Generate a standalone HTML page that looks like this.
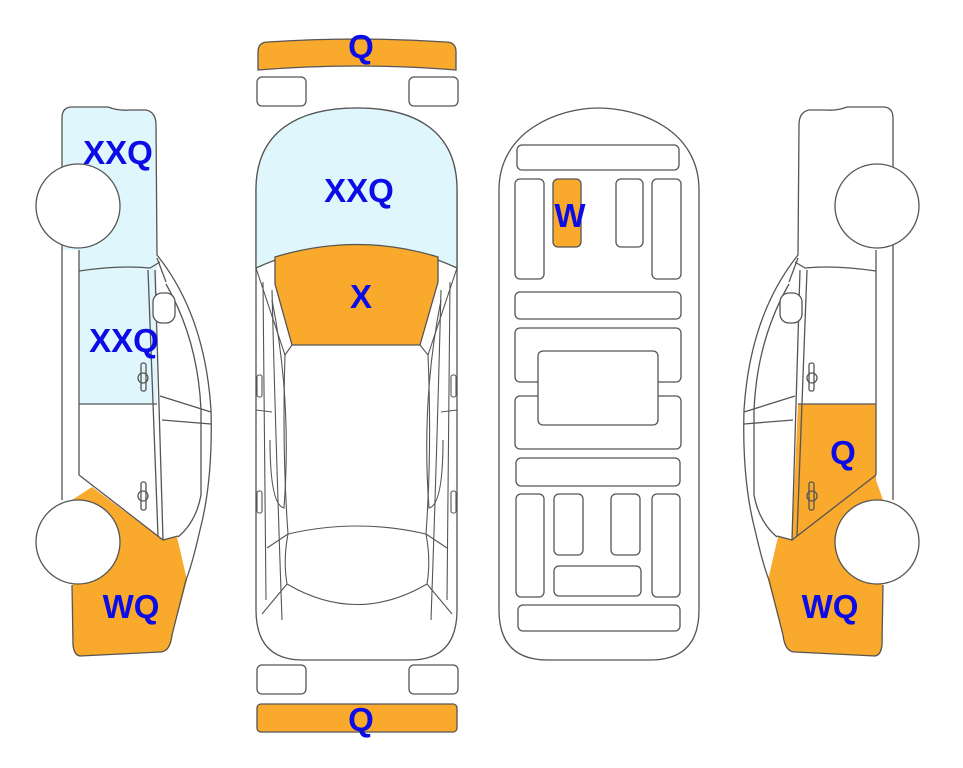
<!DOCTYPE html>
<html><head><meta charset="utf-8"><style>
html,body{margin:0;padding:0;background:#fff;width:963px;height:768px;overflow:hidden}
svg{display:block}
text{font-family:"Liberation Sans",Arial,sans-serif;font-weight:bold;font-size:33px;fill:#0c0ce6;text-anchor:middle}
</style></head><body>
<svg width="963" height="768" viewBox="0 0 963 768" xmlns="http://www.w3.org/2000/svg">

<!-- LEFT CAR -->
<path d="M62,245 L62,118 Q62,107 72,107 L108,107 Q118,111 130,110 L146,110 Q156,112 156,125 L157,255 Q205,315 211,410 Q213,480 200,530 Q192,565 186,580 L172,635 Q170,652 160,652 L80,656 Q74,655 73,645 L72,585 L62,500 Z" fill="#fff" stroke="none"/>
<path d="M62,118 Q62,107 72,107 L108,107 Q118,111 130,110 L146,110 Q156,112 156,125 L157,255 L157,404 L79,404 L79,250 L62,250 Z" fill="#dff6fd" stroke="none"/>
<path d="M92,487 L163,540 L177,537 L187,580 L172,636 Q170,652 160,652 L80,656 Q74,655 73,645 L72,500 Z" fill="#f9a92c" stroke="none"/>
<g stroke="#555" stroke-width="1.3" fill="none">
  <path d="M62,245 L62,118 Q62,107 72,107 L108,107 Q118,111 130,110 L146,110 Q156,112 156,125 L157,255 Q205,315 211,410 Q213,480 200,530 Q192,565 186,580 L172,635 Q170,652 160,652 L80,656 Q74,655 73,645 L72,585"/>
  <path d="M62,245 L62,500"/>
  <path d="M79,250 L79,475"/>
  <path d="M79,271 Q120,265 150,268 L160,262"/>
  <path d="M157,258 L166,282"/>
  <path d="M166,284 Q198,340 201,410 L201,495 Q196,522 178,537"/>
  <path d="M148,270 L158,536"/>
  <path d="M155,270 L163,540"/>
  <path d="M79,404 L157,404"/>
  <path d="M160,396 L211,412"/>
  <path d="M162,420 L211,424"/>
  <path d="M79,475 L163,540 L178,536"/>
  <rect x="153" y="293" width="22" height="30" rx="9" fill="#fff"/>
  <rect x="141" y="363" width="5" height="28" rx="2"/>
  <circle cx="143" cy="378" r="5"/>
  <rect x="141" y="482" width="5" height="28" rx="2"/>
  <circle cx="143" cy="496" r="5"/>
  <circle cx="78" cy="206" r="42" fill="#fff"/>
  <circle cx="78" cy="542" r="42" fill="#fff"/>
</g>

<!-- RIGHT CAR (mirror) -->
<g transform="translate(955,0) scale(-1,1)">
  <path d="M62,245 L62,118 Q62,107 72,107 L108,107 Q118,111 130,110 L146,110 Q156,112 156,125 L157,255 Q205,315 211,410 Q213,480 200,530 Q192,565 186,580 L172,635 Q170,652 160,652 L80,656 Q74,655 73,645 L72,585 L62,500 Z" fill="#fff" stroke="none"/>
  <path d="M79,404 L157,404 L163,540 L177,537 L187,580 L172,636 Q170,652 160,652 L80,656 Q74,655 73,645 L72,500 L79,480 Z" fill="#f9a92c" stroke="none"/>
  <g stroke="#555" stroke-width="1.3" fill="none">
  <path d="M62,245 L62,118 Q62,107 72,107 L108,107 Q118,111 130,110 L146,110 Q156,112 156,125 L157,255 Q205,315 211,410 Q213,480 200,530 Q192,565 186,580 L172,635 Q170,652 160,652 L80,656 Q74,655 73,645 L72,585"/>
  <path d="M62,245 L62,500"/>
  <path d="M79,250 L79,475"/>
  <path d="M79,271 Q120,265 150,268 L160,262"/>
  <path d="M157,258 L166,282"/>
  <path d="M166,284 Q198,340 201,410 L201,495 Q196,522 178,537"/>
  <path d="M148,270 L158,536"/>
  <path d="M155,270 L163,540"/>
  <path d="M79,404 L157,404"/>
  <path d="M160,396 L211,412"/>
  <path d="M162,420 L211,424"/>
  <path d="M79,475 L163,540 L178,536"/>
  <rect x="153" y="293" width="22" height="30" rx="9" fill="#fff"/>
  <rect x="141" y="363" width="5" height="28" rx="2"/>
  <circle cx="143" cy="378" r="5"/>
  <rect x="141" y="482" width="5" height="28" rx="2"/>
  <circle cx="143" cy="496" r="5"/>
  <circle cx="78" cy="206" r="42" fill="#fff"/>
  <circle cx="78" cy="542" r="42" fill="#fff"/>
  </g>
</g>

<!-- CENTER CAR -->
<g stroke="#555" stroke-width="1.3">
  <path d="M258,70 L258,52 Q258,42 268,42 Q357,36 446,42 Q456,42 456,52 L456,70 Q357,62 258,70 Z" fill="#f9a92c"/>
  <rect x="257" y="77" width="49" height="29" rx="5" fill="#fff"/>
  <rect x="409" y="77" width="49" height="29" rx="5" fill="#fff"/>
  <rect x="257" y="665" width="49" height="29" rx="5" fill="#fff"/>
  <rect x="409" y="665" width="49" height="29" rx="5" fill="#fff"/>
  <rect x="257" y="704" width="200" height="28" rx="4" fill="#f9a92c"/>
  <path d="M256,190 C256,130 300,108 357,108 C414,108 457,130 457,190 L457,610 Q457,660 410,660 L303,660 Q256,660 256,610 Z" fill="#fff"/>
  <path d="M256,268 L256,190 C256,130 300,108 357,108 C414,108 457,130 457,190 L457,268 Q357,222 256,268 Z" fill="#dff6fd"/>
  <path d="M275,257 Q357,232 438,257 L438,282 L420,345 L292,345 L275,284 Z" fill="#f9a92c"/>
</g>
<g stroke="#555" stroke-width="1.1" fill="none">
  <path d="M256,268 L285,355 L292,345"/>
  <path d="M457,268 L428,355 L420,345"/>
  <path d="M285,355 Q282,450 288,534 Q357,518 426,534 Q432,450 428,355"/>
  <path d="M263,282 L266,600"/>
  <path d="M272,290 Q276,450 282,620"/>
  <path d="M450,282 L447,600"/>
  <path d="M441,290 Q437,450 431,620"/>
  <path d="M288,534 L267,548"/>
  <path d="M426,534 L447,548"/>
  <path d="M288,534 Q283,560 287,584 Q357,625 427,584 Q431,560 426,534"/>
  <path d="M287,584 L262,614"/>
  <path d="M427,584 L452,614"/>
  <path d="M272,300 Q292,400 284,508 Q270,505 270,440"/>
  <path d="M441,300 Q421,400 429,508 Q443,505 443,440"/>
  <path d="M256,410 L272,412"/>
  <path d="M457,410 L441,412"/>
  <rect x="257" y="375" width="5" height="22" rx="2"/>
  <rect x="257" y="491" width="5" height="22" rx="2"/>
  <rect x="451" y="375" width="5" height="22" rx="2"/>
  <rect x="451" y="491" width="5" height="22" rx="2"/>
</g>

<!-- INTERIOR -->
<g stroke="#555" stroke-width="1.3" fill="#fff">
  <path d="M499,190 C499,130 560,108 598,108 C640,108 699,130 699,190 L699,610 Q699,660 650,660 L548,660 Q499,660 499,610 Z"/>
  <rect x="517" y="145" width="162" height="25" rx="5"/>
  <rect x="515" y="179" width="29" height="100" rx="5"/>
  <rect x="553" y="179" width="28" height="68" rx="5" fill="#f9a92c"/>
  <rect x="616" y="179" width="27" height="68" rx="5"/>
  <rect x="652" y="179" width="29" height="100" rx="5"/>
  <rect x="515" y="292" width="166" height="27" rx="5"/>
  <rect x="515" y="328" width="166" height="54" rx="5"/>
  <rect x="515" y="396" width="166" height="53" rx="5"/>
  <rect x="538" y="351" width="120" height="74" rx="5"/>
  <rect x="516" y="458" width="164" height="28" rx="5"/>
  <rect x="516" y="494" width="28" height="103" rx="5"/>
  <rect x="554" y="494" width="29" height="61" rx="5"/>
  <rect x="611" y="494" width="29" height="61" rx="5"/>
  <rect x="652" y="494" width="28" height="103" rx="5"/>
  <rect x="554" y="566" width="87" height="30" rx="5"/>
  <rect x="518" y="605" width="162" height="26" rx="5"/>
</g>

<!-- LABELS -->
<text x="118" y="164">XXQ</text>
<text x="124" y="352">XXQ</text>
<text x="131" y="618">WQ</text>
<text x="361" y="58">Q</text>
<text x="359" y="202">XXQ</text>
<text x="361" y="308">X</text>
<text x="361" y="731">Q</text>
<text x="570" y="227">W</text>
<text x="843" y="464">Q</text>
<text x="830" y="618">WQ</text>
</svg>
</body></html>
